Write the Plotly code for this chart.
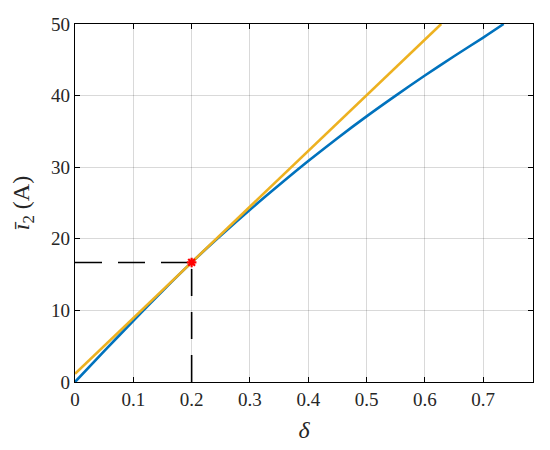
import math
import plotly.graph_objects as go

# Data
blue_x = [0, 0.05, 0.1, 0.15, 0.2, 0.25, 0.3, 0.35, 0.4, 0.45, 0.5, 0.55, 0.6, 0.65, 0.7, 0.735]
blue_y = [0, 4.3, 8.55, 12.7, 16.7, 20.45, 24.05, 27.5, 30.85, 34.05, 37.1, 40.0, 42.8, 45.5, 48.1, 50.0]
tangent_x = [0, 0.628]
tangent_y = [1.15, 50]
op_x = [0.2]
op_y = [16.7]
hline_x = [0, 0.2]
hline_y = [16.7, 16.7]
vline_x = [0.2, 0.2]
vline_y = [0, 16.7]
x_ticks = [0, 0.1, 0.2, 0.3, 0.4, 0.5, 0.6, 0.7]
y_ticks = [0, 10, 20, 30, 40, 50]

FONT = "Liberation Serif, DejaVu Serif, Times New Roman, serif"

fig = go.Figure()
fig.add_trace(go.Scatter(x=hline_x, y=hline_y, mode="lines",
                         line=dict(color="black", width=1.6, dash="27px,16px"),
                         showlegend=False, hoverinfo="skip"))
fig.add_trace(go.Scatter(x=vline_x, y=vline_y, mode="lines",
                         line=dict(color="black", width=1.6, dash="27px,16px"),
                         showlegend=False, hoverinfo="skip"))
fig.add_trace(go.Scatter(x=blue_x, y=blue_y, mode="lines",
                         line=dict(color="#0072BD", width=2.6, shape="spline", smoothing=0.8),
                         showlegend=False))
fig.add_trace(go.Scatter(x=tangent_x, y=tangent_y, mode="lines",
                         line=dict(color="#EDB120", width=2.6),
                         showlegend=False))
fig.add_trace(go.Scatter(x=op_x, y=op_y, mode="markers",
                         marker=dict(symbol="asterisk", size=8, color="red",
                                     line=dict(color="red", width=2.2)),
                         showlegend=False))

axis_common = dict(
    showline=True, linecolor="black", linewidth=1.3, mirror="ticks",
    ticks="inside", ticklen=5, tickcolor="black", tickwidth=1.2,
    showgrid=True, gridcolor="rgba(0,0,0,0.15)", gridwidth=1,
    zeroline=False, automargin=False,
    tickfont=dict(family=FONT, size=19, color="#262626"),
)

fig.update_xaxes(range=[0, math.pi / 4], tickvals=x_ticks,
                 ticktext=[f"{v:g}" for v in x_ticks],
                 title=dict(text="<i>δ</i>", font=dict(family=FONT, size=24, color="#262626"), standoff=12),
                 **axis_common)
fig.update_yaxes(range=[0, 50], tickvals=y_ticks,
                 title=dict(text="<i>ī</i><sub>2</sub> (A)", font=dict(family=FONT, size=24, color="#262626"), standoff=16),
                 **axis_common)

# page body adds an 8px offset; margins compensate so the plot area sits at x 75-533, y 24-382
fig.update_layout(
    width=550, height=450,
    margin=dict(l=67, r=25, t=16, b=76),
    plot_bgcolor="white", paper_bgcolor="white",
)

fig.write_html("out.html")
